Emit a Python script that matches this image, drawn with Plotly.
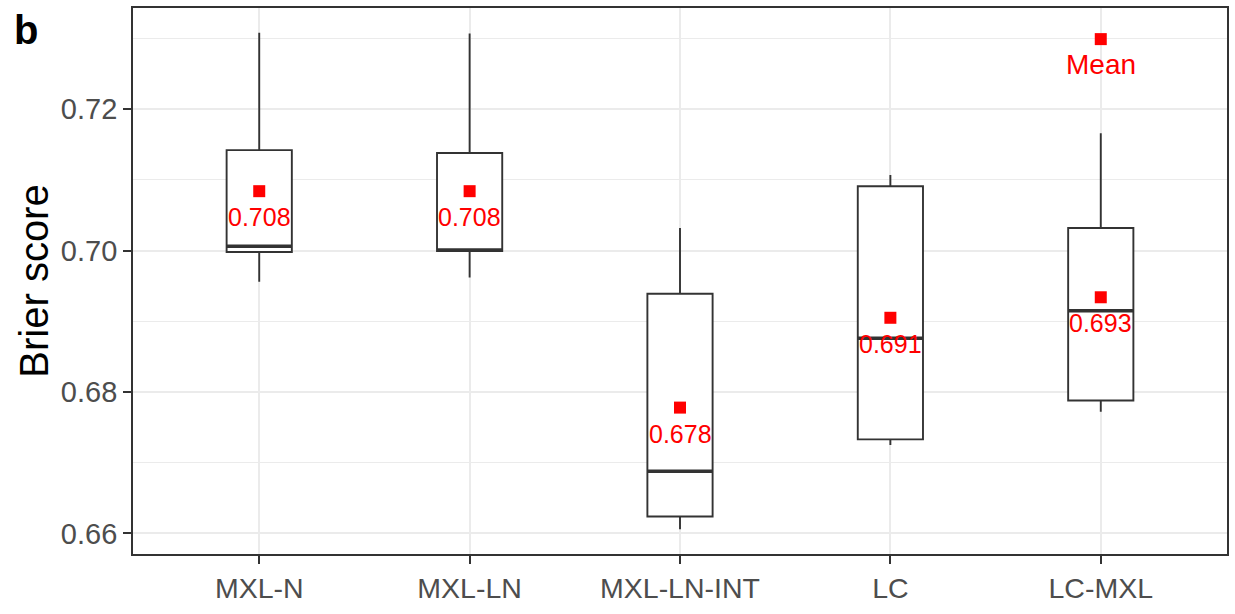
import plotly.graph_objects as go

categories = ["MXL-N", "MXL-LN", "MXL-LN-INT", "LC", "LC-MXL"]
lower = [0.6956, 0.6962, 0.6606, 0.6725, 0.6772]
q1 = [0.6998, 0.69995, 0.6624, 0.6733, 0.6788]
median = [0.7006, 0.7001, 0.6688, 0.6876, 0.6915]
q3 = [0.7142, 0.7138, 0.6939, 0.7091, 0.7032]
upper = [0.7308, 0.7307, 0.7032, 0.7107, 0.7166]
means = [0.7084, 0.7084, 0.6778, 0.6905, 0.6934]
mean_labels = ["0.708", "0.708", "0.678", "0.691", "0.693"]
legend_y = 0.7299
y_ticks = [0.66, 0.68, 0.70, 0.72]
y_tick_labels = ["0.66", "0.68", "0.70", "0.72"]

pos = list(range(len(categories)))
BW = 0.31
FONT = "Liberation Sans, Arial, Helvetica, sans-serif"
LINE = "#333333"

fig = go.Figure()
fig.add_trace(go.Box(
    x=pos, q1=q1, median=median, q3=q3, lowerfence=lower, upperfence=upper,
    width=BW, whiskerwidth=0, fillcolor="white",
    line=dict(color=LINE, width=1.9), showlegend=False, hoverinfo="skip",
))
# thicker median segments (ggplot style)
for i, m in zip(pos, median):
    fig.add_trace(go.Scatter(
        x=[i - BW / 2, i + BW / 2], y=[m, m], mode="lines",
        line=dict(color=LINE, width=3.5), showlegend=False, hoverinfo="skip",
    ))
fig.add_trace(go.Scatter(
    x=pos, y=means, mode="markers",
    marker=dict(symbol="square", color="red", size=12),
    showlegend=False, hoverinfo="skip",
))
fig.add_trace(go.Scatter(
    x=[pos[-1]], y=[legend_y], mode="markers",
    marker=dict(symbol="square", color="red", size=12),
    showlegend=False, hoverinfo="skip",
))

annotations = []
for i, m, t in zip(pos, means, mean_labels):
    annotations.append(dict(x=i, y=m, xref="x", yref="y", text=t, showarrow=False,
                            yshift=-26, font=dict(family=FONT, size=25, color="red")))
annotations.append(dict(x=pos[-1], y=legend_y, xref="x", yref="y", text="Mean", showarrow=False,
                        yshift=-25, font=dict(family=FONT, size=28, color="red")))
annotations.append(dict(x=(12 - 133) / 1096, y=(554 - 30) / 546.5, xref="paper", yref="paper",
                        text="<b>b</b>", showarrow=False, xanchor="left", yanchor="middle",
                        font=dict(family=FONT, size=40, color="black")))

fig.update_layout(
    width=1235, height=614,
    margin=dict(l=133, r=6, t=8, b=60),
    paper_bgcolor="white", plot_bgcolor="white",
    annotations=annotations,
    xaxis=dict(
        range=[-0.6, 4.6], tickmode="array", tickvals=pos, ticktext=categories,
        showgrid=True, gridcolor="#EBEBEB", gridwidth=1.5, zeroline=False,
        showline=True, linecolor=LINE, linewidth=1.8, mirror=True,
        ticks="outside", ticklen=8, tickwidth=1.6, tickcolor=LINE,
        tickfont=dict(family=FONT, size=28.5, color="#4D4D4D"),
    ),
    yaxis=dict(
        range=[0.6571, 0.7343], tickmode="array", tickvals=y_ticks, ticktext=y_tick_labels,
        showgrid=True, gridcolor="#EBEBEB", gridwidth=1.5, zeroline=False,
        showline=True, linecolor=LINE, linewidth=1.8, mirror=True,
        ticks="outside", ticklen=8, tickwidth=1.6, tickcolor=LINE,
        tickfont=dict(family=FONT, size=29, color="#4D4D4D"),
        minor=dict(tickmode="array", tickvals=[0.67, 0.69, 0.71, 0.73], showgrid=True,
                   gridcolor="#EBEBEB", gridwidth=0.8, ticks=""),
        title=dict(text="Brier score", standoff=0,
                   font=dict(family=FONT, size=40, color="black")),
    ),
)

fig.write_html("out.html")
